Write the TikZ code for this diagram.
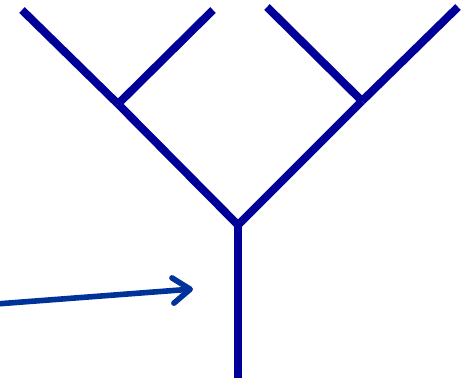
\documentclass[tikz,border=0pt]{standalone}
\usetikzlibrary{arrows.meta}
\definecolor{ctree}{HTML}{000099}
\definecolor{carrow}{HTML}{003399}
\tikzset{
  every picture/.style={x=0.75pt, y=-0.75pt},
  branch/.style={draw=ctree, line width=6pt, line cap=butt, line join=miter},
  pointer/.style={-{Straight Barb[length=13pt, width=19pt, line cap=round, line join=round]}, draw=carrow, line width=4.2pt, line cap=round},
}

\begin{document}
\begin{tikzpicture}
  \useasboundingbox (0,0) rectangle (471,380);
  \coordinate (root) at (238,378);
  \coordinate (fork) at (238,225);
  \coordinate (left) at (118,104);
  \coordinate (right) at (362,101);
  \coordinate (ll) at (22,10);
  \coordinate (lr) at (213,10);
  \coordinate (rl) at (267,7);
  \coordinate (rr) at (458,7);
  \coordinate (tail) at (-4,304);
  \coordinate (head) at (193,289);
  \draw[branch] (root) -- (fork);
  \draw[branch] (fork) -- (left);
  \draw[branch] (fork) -- (right);
  \draw[branch] (left) -- (ll);
  \draw[branch] (left) -- (lr);
  \draw[branch] (right) -- (rl);
  \draw[branch] (right) -- (rr);
  \draw[pointer] (tail) -- (head);
\end{tikzpicture}
\end{document}
